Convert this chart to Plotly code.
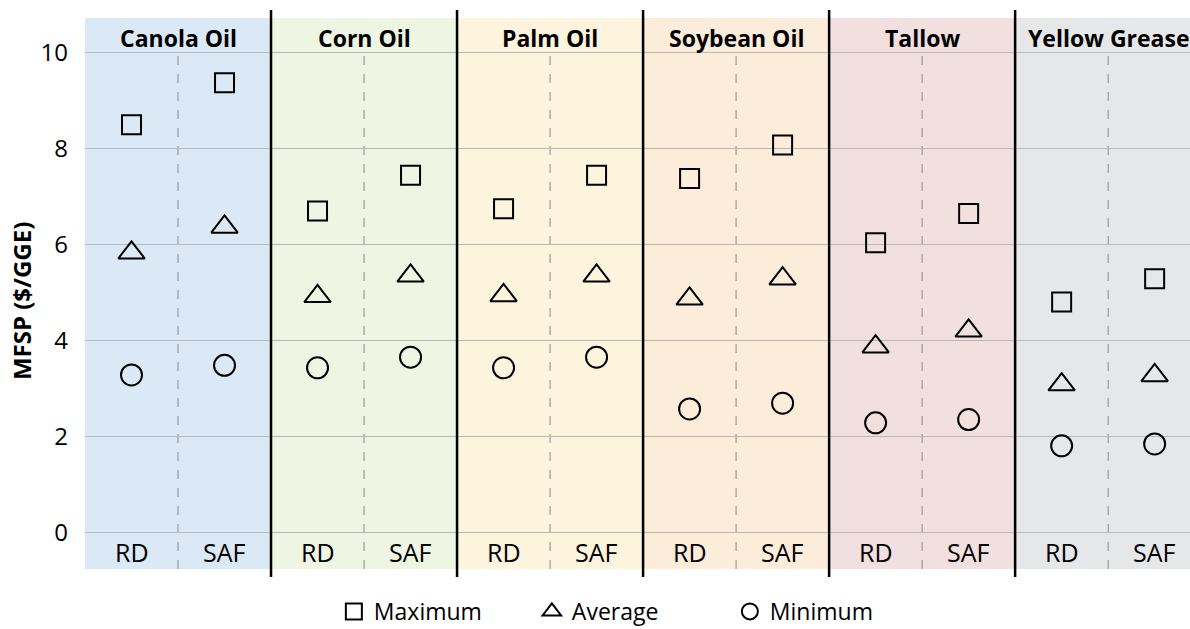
import plotly.graph_objects as go

groups = ["Canola Oil", "Corn Oil", "Palm Oil", "Soybean Oil", "Tallow", "Yellow Grease"]
fuels = ["RD", "SAF"]
band_colors = ["#dae9f5", "#eef5e2", "#fdf4de", "#fcecda", "#f2dfdf", "#e6e7e9"]

# values ordered: group0 RD, group0 SAF, group1 RD, ...
maximum = [8.5, 9.38, 6.7, 7.45, 6.75, 7.45, 7.38, 8.08, 6.04, 6.65, 4.8, 5.29]
average = [5.83, 6.37, 4.92, 5.35, 4.94, 5.35, 4.87, 5.29, 3.87, 4.2, 3.08, 3.27]
minimum = [3.28, 3.48, 3.43, 3.65, 3.43, 3.65, 2.57, 2.69, 2.28, 2.35, 1.8, 1.84]

yticks = [0, 2, 4, 6, 8, 10]

xpos = list(range(len(groups) * len(fuels)))
YMIN, YMAX = -0.77, 10.73
XMIN, XMAX = -0.5, 11.38

fig = go.Figure()

series = [("Maximum", maximum, "square-open", 19),
          ("Average", average, "triangle-up-open", 23),
          ("Minimum", minimum, "circle-open", 21)]
for name, vals, sym, size in series:
    fig.add_trace(go.Scatter(
        x=xpos, y=vals, mode="markers", name=name,
        marker=dict(symbol=sym, size=size, color="black",
                    line=dict(color="black", width=2)),
        cliponaxis=False,
    ))

shapes = []
annotations = []
for i, g in enumerate(groups):
    x0 = 2 * i - 0.5
    x1 = 2 * i + 1.5
    shapes.append(dict(type="rect", xref="x", yref="y", x0=x0, x1=x1,
                       y0=YMIN, y1=YMAX, fillcolor=band_colors[i],
                       line=dict(width=0), layer="below"))
    shapes.append(dict(type="line", xref="x", yref="y", x0=2 * i + 0.5, x1=2 * i + 0.5,
                       y0=YMIN, y1=10, line=dict(color="#8a8a8a", width=1, dash="dash"),
                       layer="below"))
    if i > 0:
        shapes.append(dict(type="line", xref="x", yref="paper", x0=x0, x1=x0,
                           y0=-0.0145, y1=1.0145, line=dict(color="black", width=2.5),
                           layer="above"))
    annotations.append(dict(x=2 * i + 0.5, y=10.32, xref="x", yref="y", text="<b>" + g + "</b>",
                            showarrow=False, font=dict(size=23, color="black")))
    for j, f in enumerate(fuels):
        annotations.append(dict(x=2 * i + j, y=-0.42, xref="x", yref="y", text=f,
                                showarrow=False, font=dict(size=25, color="black")))

annotations.append(dict(x=-0.058, y=0.486, xref="paper", yref="paper",
                        text="<b>MFSP ($/GGE)</b>", textangle=-90, showarrow=False,
                        xanchor="center", yanchor="middle",
                        font=dict(size=24, color="black")))

fig.update_layout(
    width=1190, height=629,
    margin=dict(l=85, r=0, t=18, b=60, autoexpand=False),
    paper_bgcolor="white", plot_bgcolor="white",
    font=dict(family="Open Sans", color="black"),
    shapes=shapes, annotations=annotations,
    showlegend=True,
    legend=dict(orientation="h", x=0.494, xanchor="center", y=-0.038, yanchor="top",
                font=dict(size=23, color="black"), itemwidth=30,
                entrywidth=153, entrywidthmode="pixels",
                bgcolor="rgba(0,0,0,0)"),
    xaxis=dict(range=[XMIN, XMAX], showgrid=False, zeroline=False, showticklabels=False,
               showline=False, fixedrange=True),
    yaxis=dict(range=[YMIN, YMAX], tickvals=yticks, showgrid=True, gridcolor="#b8b8b8",
               gridwidth=1, zeroline=True, zerolinecolor="#b8b8b8", zerolinewidth=1,
               showline=False, tickfont=dict(size=24, color="black"), ticks="",
               ticklabelstandoff=16, fixedrange=True),
)

fig.write_html("out.html", config={"displayModeBar": False},
               post_script="document.body.style.margin='0';")
